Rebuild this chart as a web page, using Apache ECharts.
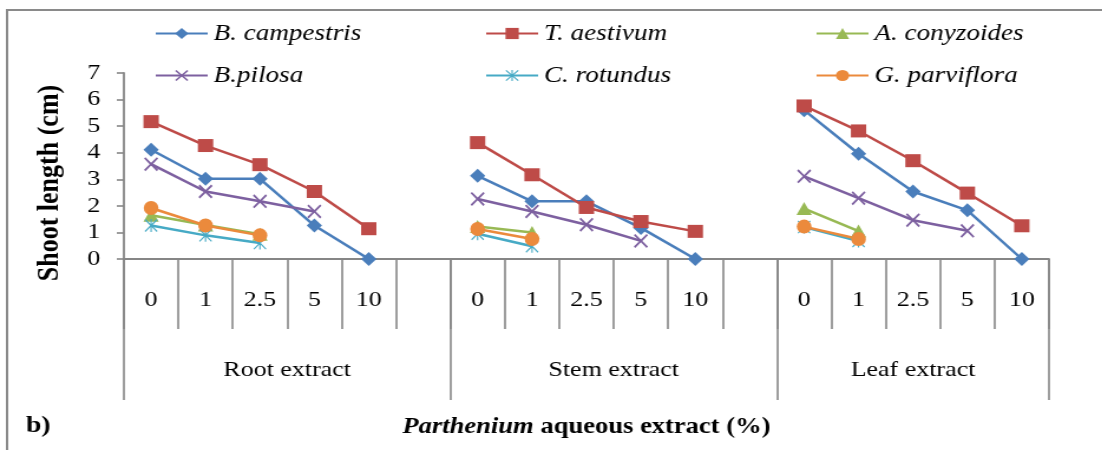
<!DOCTYPE html>
<html>
<head>
<meta charset="utf-8">
<title>Shoot length</title>
<script src="https://cdn.jsdelivr.net/npm/echarts@6/dist/echarts.min.js"></script>
<style>
  html, body { margin: 0; padding: 0; background: #ffffff; overflow: hidden; }
  /* the figure is laid out at a narrower width and widened horizontally */
  #chart { width: 934px; height: 450px; transform: scaleX(1.18); transform-origin: 0 0; }
</style>
</head>
<body>
<div id="chart"></div>
<script>
// extract concentrations (%) shown for each plant part
const concentrations = ['0', '1', '2.5', '5', '10'];
const extracts = ['Root extract', 'Stem extract', 'Leaf extract'];
const yTicks = [0, 1, 2, 3, 4, 5, 6, 7];

// shoot length (cm); one slot per concentration, with an empty slot between extracts
const campestris = [4.11, 3.02, 3.02, 1.26, 0, null, 3.13, 2.17, 2.17, 1.17, 0, null, 5.6, 3.96, 2.54, 1.83, 0];
const aestivum   = [5.17, 4.27, 3.55, 2.54, 1.14, null, 4.38, 3.17, 1.94, 1.41, 1.04, null, 5.76, 4.82, 3.70, 2.48, 1.25];
const conyzoides = [1.65, 1.28, 0.93, null, null, null, 1.22, 1.0, null, null, null, null, 1.9, 1.05, null, null, null];
const pilosa     = [3.57, 2.54, 2.17, 1.79, null, null, 2.26, 1.79, 1.29, 0.68, null, null, 3.11, 2.29, 1.46, 1.06, null];
const rotundus   = [1.26, 0.89, 0.6, null, null, null, 0.95, 0.48, null, null, null, null, 1.2, 0.68, null, null, null];
const parviflora = [1.92, 1.26, 0.89, null, null, null, 1.13, 0.75, null, null, null, null, 1.22, 0.75, null, null, null];

const serif = '"Liberation Serif", "Times New Roman", serif';
const axisGray = '#868686';

// category slots: five concentrations per extract, a blank slot between extracts
const slots = [];
extracts.forEach((e, k) => {
  concentrations.forEach(c => slots.push(c));
  if (k < extracts.length - 1) slots.push('');
});

// half-slot positions for the extract row: dividers at the group edges, names at the group centres
const halfCount = slots.length * 2 + 1;
const groupEdges = [];
const groupCentres = {};
let start = 0;
extracts.forEach((e, k) => {
  const width = concentrations.length + (k < extracts.length - 1 ? 1 : 0);
  groupEdges.push(start * 2);
  groupCentres[start * 2 + width] = e;
  start += width;
});
groupEdges.push(slots.length * 2);
const groupRow = [];
for (let i = 0; i < halfCount; i++) groupRow.push(groupCentres[i] || '');

// marker shapes
const crossPath = 'path://M0,1L1,0L5,4L9,0L10,1L6,5L10,9L9,10L5,6L1,10L0,9L4,5Z';
const starPath = 'path://M4.5,0L5.5,0L5.5,10L4.5,10Z M0,0.7L0.7,0L10,9.3L9.3,10Z M10,0.7L0.7,10L0,9.3L9.3,0Z';

function lineSeries(name, data, color, symbol, size) {
  return {
    name: name,
    type: 'line',
    data: data,
    xAxisIndex: 0,
    connectNulls: false,
    symbol: symbol,
    symbolSize: size,
    showAllSymbol: true,
    lineStyle: { color: color, width: 2.5 },
    itemStyle: { color: color, borderWidth: 0 },
    emphasis: { disabled: true },
    animation: false
  };
}

const legendText = { fontFamily: serif, fontSize: 23, fontStyle: 'italic', color: '#000' };
function legendColumn(items, left) {
  return {
    orient: 'vertical',
    left: left,
    top: 22,
    padding: 0,
    itemWidth: 44,
    itemHeight: 14,
    itemGap: 19,
    data: items,
    textStyle: legendText,
    selectedMode: false
  };
}

const chart = echarts.init(document.getElementById('chart'), null, { renderer: 'canvas' });
chart.setOption({
  backgroundColor: '#ffffff',
  animation: false,
  legend: [
    legendColumn(['B. campestris', 'B.pilosa'], 131),
    legendColumn(['T. aestivum', 'C. rotundus'], 411),
    legendColumn(['A. conyzoides', 'G. parviflora'], 691)
  ],
  grid: { left: 105, right: 45, top: 73, bottom: 191, containLabel: false },
  xAxis: [
    {
      type: 'category',
      data: slots,
      boundaryGap: true,
      position: 'bottom',
      axisLine: { show: true, lineStyle: { color: axisGray, width: 1.8 } },
      axisTick: { show: true, interval: 0, length: 70, lineStyle: { color: axisGray, width: 1.6 } },
      axisLabel: { interval: 0, margin: 30, fontFamily: serif, fontSize: 22, color: '#000' },
      splitLine: { show: false }
    },
    {
      type: 'category',
      data: groupRow,
      boundaryGap: false,
      position: 'bottom',
      offset: 0,
      axisLine: { show: false },
      axisTick: {
        show: true,
        interval: (i) => groupEdges.indexOf(i) >= 0,
        length: 141,
        lineStyle: { color: axisGray, width: 1.6 }
      },
      axisLabel: {
        interval: (i, v) => v !== '',
        margin: 100,
        fontFamily: serif, fontSize: 22, color: '#000'
      },
      splitLine: { show: false },
      name: '{i|Parthenium} aqueous extract (%)',
      nameLocation: 'middle',
      nameGap: 157,
      nameTextStyle: {
        fontFamily: serif, fontSize: 22.5, fontWeight: 'bold', color: '#000',
        rich: { i: { fontFamily: serif, fontSize: 22.5, fontWeight: 'bold', fontStyle: 'italic', color: '#000' } }
      }
    }
  ],
  yAxis: {
    type: 'value',
    min: yTicks[0],
    max: yTicks[yTicks.length - 1],
    interval: 1,
    axisLine: { show: true, lineStyle: { color: axisGray, width: 1.8 } },
    axisTick: { show: true, inside: false, length: 6, lineStyle: { color: axisGray, width: 1.6 } },
    axisLabel: { margin: 20, fontFamily: serif, fontSize: 22, color: '#000' },
    splitLine: { show: false },
    name: 'Shoot length (cm)',
    nameLocation: 'middle',
    nameGap: 50,
    nameTextStyle: { fontFamily: serif, fontSize: 26, fontWeight: 'bold', color: '#000', padding: [0, 34, 0, 0] }
  },
  graphic: [
    {
      type: 'rect',
      shape: { x: 6, y: 10, width: 1200, height: 600 },
      style: { fill: 'none', stroke: '#8a8a8a', lineWidth: 2 },
      silent: true
    },
    {
      type: 'text',
      left: 22,
      top: 414,
      style: { text: 'b)', fontFamily: serif, fontSize: 23.5, fontWeight: 'bold', fill: '#000' },
      silent: true
    }
  ],
  series: [
    lineSeries('B. campestris', campestris, '#4A7EBB', 'diamond', [13, 14]),
    lineSeries('T. aestivum', aestivum, '#BE4B48', 'rect', 13),
    lineSeries('A. conyzoides', conyzoides, '#98B954', 'triangle', 13),
    lineSeries('B.pilosa', pilosa, '#7D60A0', crossPath, [12, 14]),
    lineSeries('C. rotundus', rotundus, '#46AAC5', starPath, [11, 13]),
    lineSeries('G. parviflora', parviflora, '#EB8A3C', 'circle', [12.5, 14])
  ]
});
</script>
</body>
</html>
